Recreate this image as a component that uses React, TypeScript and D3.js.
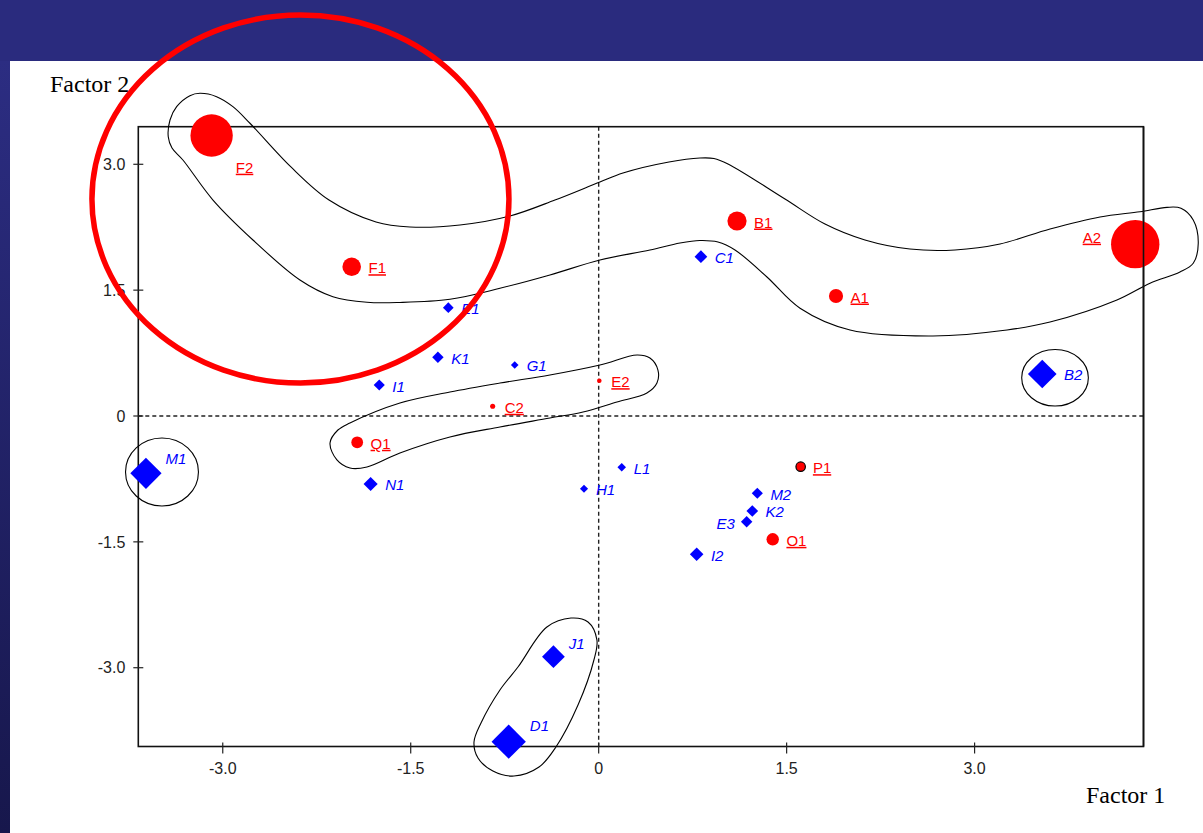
import React, { useEffect } from 'react';
import * as d3 from 'd3';

const W = 1203;
const H = 833;

// Row categories (red, underlined) on Factor 1 / Factor 2
const rowLabels = ['F2', 'F1', 'B1', 'A2', 'A1', 'E2', 'C2', 'Q1', 'P1', 'O1'];
const rowF1 = [-3.089, -1.971, 1.104, 4.282, 1.894, 0.005, -0.846, -1.927, 1.612, 1.389];
const rowF2 = [3.343, 1.779, 2.324, 2.048, 1.43, 0.421, 0.116, -0.313, -0.604, -1.47];
const rowMass = [76.6, 14.7, 15.7, 100, 8.5, 0.9, 1.1, 5.9, 3.8, 6.6];

// Column categories (blue, italic)
const colLabels = ['C1', 'E1', 'K1', 'G1', 'I1', 'N1', 'H1', 'L1', 'M2', 'K2', 'E3', 'I2', 'B2', 'M1', 'J1', 'D1'];
const colF1 = [0.816, -1.2, -1.283, -0.67, -1.751, -1.82, -0.117, 0.184, 1.266, 1.226, 1.181, 0.782, 3.54, -3.613, -0.361, -0.718];
const colF2 = [1.899, 1.291, 0.7, 0.608, 0.369, -0.81, -0.867, -0.611, -0.921, -1.132, -1.26, -1.648, 0.501, -0.683, -2.869, -3.882];
const colMass = [6.9, 4.9, 5.6, 2.5, 5.3, 8.5, 2.8, 3.1, 5.3, 5.8, 5.6, 7.8, 35, 41.7, 22.2, 50.2];

const tickValues = [-3, -1.5, 0, 1.5, 3];
const tickLabels = ['-3.0', '-1.5', '0', '1.5', '3.0'];
const xExtent: [number, number] = [-3.674, 4.348];
const yExtent: [number, number] = [-3.939, 3.448];

// Group outlines, in factor coordinates
const hullWide: [number, number][] = [
  [-3.182, 3.846], [-3.049, 3.806], [-2.919, 3.687], [-2.783, 3.489], [-2.456, 2.968], [-2.152, 2.574],
  [-1.777, 2.312], [-1.506, 2.253], [-1.107, 2.277], [-0.708, 2.384], [-0.349, 2.574], [0.01, 2.789],
  [0.194, 2.896], [0.561, 3.027], [0.808, 3.075], [0.92, 3.069], [1.032, 3.004], [1.487, 2.586],
  [1.806, 2.288], [2.125, 2.098], [2.484, 1.99], [2.844, 1.979], [3.203, 2.05], [3.602, 2.229],
  [4.001, 2.372], [4.32, 2.435], [4.536, 2.487], [4.647, 2.476], [4.745, 2.336], [4.785, 2.058],
  [4.745, 1.82], [4.639, 1.716], [4.4, 1.582], [4.136, 1.383], [3.602, 1.12], [3.259, 1.025],
  [2.668, 0.954], [2.006, 1.025], [1.607, 1.284], [1.343, 1.657], [1.088, 1.979], [0.952, 2.074],
  [0.808, 2.092], [0.649, 2.062], [0.409, 1.979], [0.01, 1.859], [-0.389, 1.681], [-0.788, 1.522],
  [-1.187, 1.391], [-1.586, 1.353], [-1.849, 1.355], [-2.121, 1.422], [-2.384, 1.621], [-2.759, 2.098],
  [-3.078, 2.574], [-3.318, 3.051], [-3.405, 3.194], [-3.435, 3.329], [-3.421, 3.528],
  [-3.368, 3.687], [-3.262, 3.818],
];
const hullBand: [number, number][] = [
  [-2.144, -0.322], [-2.081, -0.167], [-1.985, -0.083], [-1.586, 0.155], [-1.187, 0.286], [-0.788, 0.393],
  [-0.389, 0.489], [0.01, 0.608], [0.306, 0.727], [0.409, 0.691], [0.473, 0.548], [0.465, 0.393],
  [0.385, 0.274], [0.146, 0.167], [-0.125, 0.048], [-0.389, -0.024], [-0.788, -0.131], [-1.187, -0.25],
  [-1.586, -0.441], [-1.849, -0.608], [-1.985, -0.62], [-2.089, -0.524],
];
const hullLow: [number, number][] = [
  [-0.221, -2.408], [-0.085, -2.455], [-0.014, -2.67], [-0.038, -2.908], [-0.165, -3.445], [-0.341, -3.945],
  [-0.476, -4.184], [-0.676, -4.291], [-0.844, -4.231], [-0.963, -4.076], [-0.995, -3.886], [-0.939, -3.659],
  [-0.788, -3.266], [-0.644, -2.992], [-0.413, -2.515],
];
const ringM1 = { cx: -3.485, cy: -0.667, rx: 0.291, ry: 0.405 };
const ringB2 = { cx: 3.642, cy: 0.456, rx: 0.266, ry: 0.337 };
const highlight = { cx: -2.38, cy: 2.586, rx: 1.664, ry: 2.193 };

// Label placement rules (by category name)
const labelLeft = new Set(['A2', 'E3']);
const labelUpperRight = new Set(['M1', 'J1', 'D1']);
const labelBelow = new Set(['F2']);

const box = { left: 138.3, right: 1143.5, top: 126.7, bottom: 746.5 };
const sans = "'Liberation Sans', Arial, sans-serif";
const serif = "'Liberation Serif', 'Times New Roman', serif";
const RED = '#ff0000';
const BLUE = '#0000ff';
const NAVY = '#2a2b7e';

export default function App() {
  useEffect(() => {
    document.body.style.margin = '0';
    document.body.style.overflow = 'hidden';
  }, []);

  const x = d3.scaleLinear().domain(xExtent).range([box.left, box.right]);
  const y = d3.scaleLinear().domain(yExtent).range([box.bottom, box.top]);
  const size = d3.scaleSqrt().domain([0, 100]).range([0, 24.2]);

  const closed = d3
    .line<[number, number]>()
    .x((d) => x(d[0]))
    .y((d) => y(d[1]))
    .curve(d3.curveCatmullRomClosed.alpha(0.5));

  const rows = rowLabels.map((name, i) => ({ name, px: x(rowF1[i]), py: y(rowF2[i]), r: size(rowMass[i]) }));
  const cols = colLabels.map((name, i) => ({ name, px: x(colF1[i]), py: y(colF2[i]), r: size(colMass[i]) }));

  const place = (name: string, px: number, py: number, r: number) => {
    if (labelBelow.has(name)) return { tx: px + r + 3, ty: py + r + 16, anchor: 'start' };
    if (labelUpperRight.has(name)) return { tx: px + r + 4, ty: py - r * 0.55 - 1, anchor: 'start' };
    if (labelLeft.has(name)) {
      return name === 'A2'
        ? { tx: px - r - 10, ty: py - 1.5, anchor: 'end' }
        : { tx: px - r - 6, ty: py + 7.5, anchor: 'end' };
    }
    return { tx: px + Math.max(12, r + 7.5), ty: py + 6.5, anchor: 'start' };
  };

  const diamond = (px: number, py: number, h: number) =>
    `M${px},${py - h}L${px + h},${py}L${px},${py + h}L${px - h},${py}Z`;

  const ellipseOf = (e: { cx: number; cy: number; rx: number; ry: number }) => ({
    cx: x(e.cx),
    cy: y(e.cy),
    rx: x(e.cx + e.rx) - x(e.cx),
    ry: y(e.cy) - y(e.cy + e.ry),
  });
  const m1 = ellipseOf(ringM1);
  const b2 = ellipseOf(ringB2);
  const hl = ellipseOf(highlight);

  return (
    <svg width={W} height={H} style={{ position: 'absolute', left: 0, top: 0, display: 'block' }}>
      <defs>
        <linearGradient id="edge" x1="0" y1="0" x2="0" y2="1">
          <stop offset="0" stopColor="#2c2d82" />
          <stop offset="1" stopColor="#17174c" />
        </linearGradient>
      </defs>
      <rect x={0} y={0} width={W} height={H} fill={NAVY} />
      <rect x={0} y={61} width={10} height={H - 61} fill="url(#edge)" />
      <rect x={10} y={61} width={W - 10} height={H - 61} fill="#ffffff" />

      {/* zero reference lines */}
      <line x1={box.left} x2={box.right} y1={y(0)} y2={y(0)} stroke="#222" strokeWidth={1.4} strokeDasharray="4,3" />
      <line x1={x(0)} x2={x(0)} y1={box.top} y2={box.bottom} stroke="#222" strokeWidth={1.4} strokeDasharray="4,3" />

      {/* plot frame */}
      <rect
        x={box.left}
        y={box.top}
        width={box.right - box.left}
        height={box.bottom - box.top}
        fill="none"
        stroke="#111"
        strokeWidth={1.6}
      />

      {/* ticks and tick labels */}
      {tickValues.map((v, i) => (
        <g key={'xt' + i}>
          <line x1={x(v)} x2={x(v)} y1={box.bottom - 4} y2={box.bottom + 7} stroke="#222" strokeWidth={1.2} />
          <text x={x(v)} y={box.bottom + 27} textAnchor="middle" fontFamily={sans} fontSize={16} fill="#222">
            {tickLabels[i]}
          </text>
        </g>
      ))}
      {tickValues.map((v, i) => (
        <g key={'yt' + i}>
          <line x1={box.left - 5} x2={box.left + 5} y1={y(v)} y2={y(v)} stroke="#222" strokeWidth={1.2} />
          <text x={box.left - 13} y={y(v) + 5.7} textAnchor="end" fontFamily={sans} fontSize={16} fill="#222">
            {tickLabels[i]}
          </text>
        </g>
      ))}

      {/* group outlines */}
      <g fill="none" stroke="#000" strokeWidth={1.1}>
        <path d={closed(hullWide) ?? ''} />
        <path d={closed(hullBand) ?? ''} />
        <path d={closed(hullLow) ?? ''} />
        <ellipse cx={m1.cx} cy={m1.cy} rx={m1.rx} ry={m1.ry} />
        <ellipse cx={b2.cx} cy={b2.cy} rx={b2.rx} ry={b2.ry} />
      </g>

      {/* column points */}
      {cols.map((c) => {
        const p = place(c.name, c.px, c.py, c.r);
        return (
          <g key={c.name}>
            <path d={diamond(c.px, c.py, c.r)} fill={BLUE} />
            <text
              x={p.tx}
              y={p.ty}
              textAnchor={p.anchor as any}
              fontFamily={sans}
              fontStyle="italic"
              fontSize={15}
              fill={BLUE}
            >
              {c.name}
            </text>
          </g>
        );
      })}

      {/* row points */}
      {rows.map((c) => {
        const p = place(c.name, c.px, c.py, c.r);
        return (
          <g key={c.name}>
            <circle
              cx={c.px}
              cy={c.py}
              r={c.r}
              fill={RED}
              stroke={c.name === 'P1' ? '#000' : 'none'}
              strokeWidth={c.name === 'P1' ? 1.2 : 0}
            />
            <text
              x={p.tx}
              y={p.ty}
              textAnchor={p.anchor as any}
              fontFamily={sans}
              fontSize={15}
              fill={RED}
              style={{ textDecoration: 'underline' }}
            >
              {c.name}
            </text>
          </g>
        );
      })}

      {/* right edge of the frame sits above the markers */}
      <line x1={box.right} x2={box.right} y1={box.top} y2={box.bottom} stroke="#111" strokeWidth={1.6} />

      {/* axis titles */}
      <text x={50} y={91.7} fontFamily={serif} fontSize={24} fill="#000">
        Factor 2
      </text>
      <text x={1086} y={802.7} fontFamily={serif} fontSize={24} fill="#000">
        Factor 1
      </text>

      {/* highlighted region */}
      <ellipse cx={hl.cx} cy={hl.cy} rx={hl.rx} ry={hl.ry} fill="none" stroke={RED} strokeWidth={5.5} />
    </svg>
  );
}
